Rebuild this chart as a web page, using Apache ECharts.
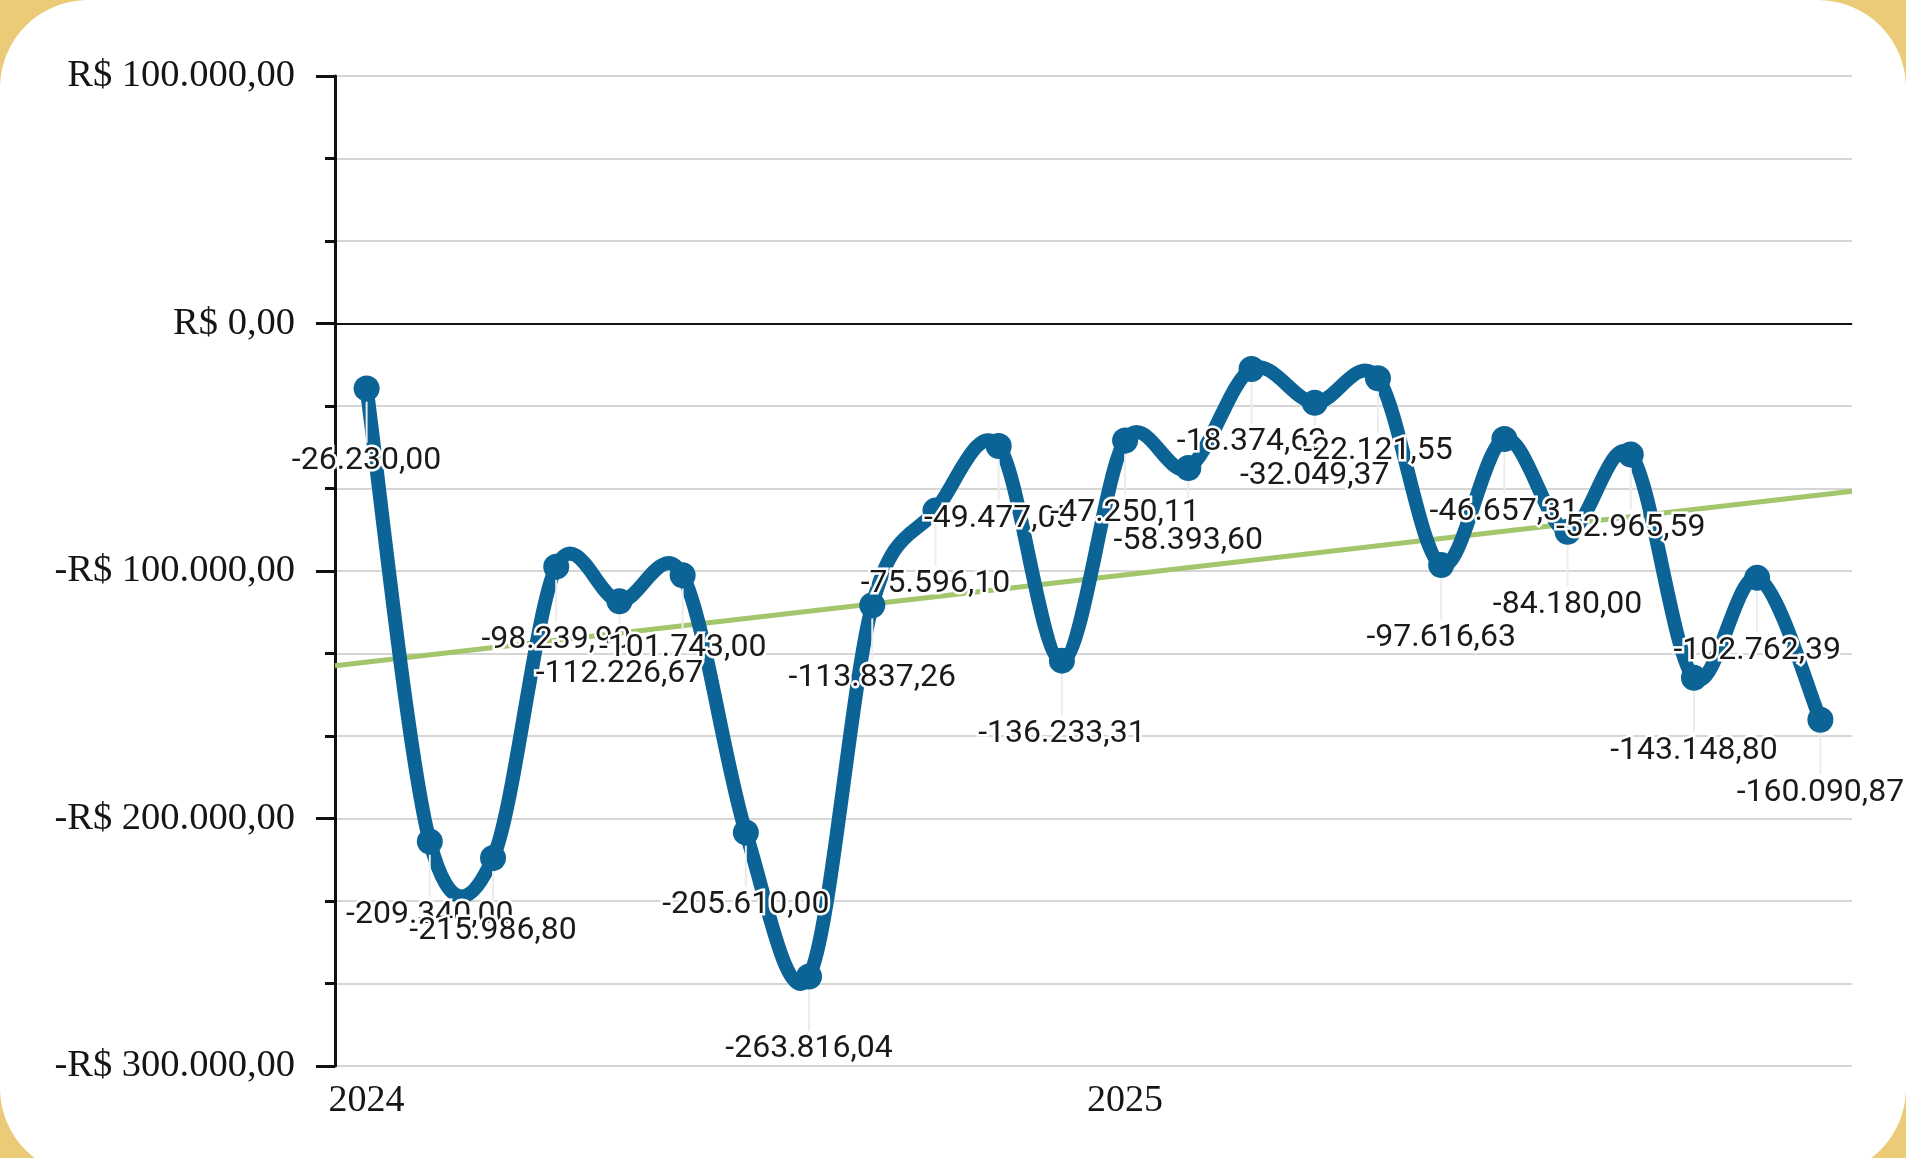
<!DOCTYPE html>
<html>
<head>
<meta charset="utf-8">
<script src="https://cdn.jsdelivr.net/npm/echarts@6/dist/echarts.min.js"></script>
<style>
  html, body { margin: 0; padding: 0; background: #ebca78; overflow: hidden; }
  #card { position: absolute; left: 0; top: 0; width: 1906px; height: 1176px; background: #fff; border-radius: 88px; }
  #chart { position: absolute; left: 0; top: 0; width: 1906px; height: 1158px; }
</style>
</head>
<body>
<div id="card"></div>
<div id="chart"></div>
<script>
// meses 2024-01 .. 2025-12
var months = [
  "2024-01", "2024-02", "2024-03", "2024-04", "2024-05", "2024-06",
  "2024-07", "2024-08", "2024-09", "2024-10", "2024-11", "2024-12",
  "2025-01", "2025-02", "2025-03", "2025-04", "2025-05", "2025-06",
  "2025-07", "2025-08", "2025-09", "2025-10", "2025-11", "2025-12"
];
var balance = [
  -26230.00, -209340.00, -215986.80, -98239.90, -112226.67, -101743.00,
  -205610.00, -263816.04, -113837.26, -75596.10, -49477.05, -136233.31,
  -47250.11, -58393.60, -18374.62, -32049.37, -22121.55, -97616.63,
  -46657.31, -84180.00, -52965.59, -143148.80, -102762.39, -160090.87
];
var trendEnds = [-138300, -67800];
var yMin = -300000;
var yMax = 100000;
var yStep = 100000;

function brNumber(v) {
  var s = Math.abs(v).toFixed(2).split(".");
  var int = s[0].replace(/\B(?=(\d{3})+(?!\d))/g, ".");
  return int + "," + s[1];
}

var chart = echarts.init(document.getElementById("chart"));

var gridLine = "#d6d6d6";
var blue = "#0b6396";

// curva tipo catmull-rom entre os pontos (segmento i -> i+1)
function renderCurve(params, api) {
  var i = params.dataIndex;
  var n = balance.length;
  if (i >= n - 1) return null;
  function pt(k) {
    k = Math.max(0, Math.min(n - 1, k));
    return api.coord([k, balance[k]]);
  }
  var p0 = pt(i - 1), p1 = pt(i), p2 = pt(i + 1), p3 = pt(i + 2);
  return {
    type: "bezierCurve",
    shape: {
      x1: p1[0], y1: p1[1],
      x2: p2[0], y2: p2[1],
      cpx1: p1[0] + (p2[0] - p0[0]) / 6,
      cpy1: p1[1] + (p2[1] - p0[1]) / 6,
      cpx2: p2[0] - (p3[0] - p1[0]) / 6,
      cpy2: p2[1] - (p3[1] - p1[1]) / 6
    },
    style: { stroke: blue, lineWidth: 14, fill: null, lineCap: "round" }
  };
}

chart.setOption({
  animation: false,
  grid: {
    left: 335,
    right: 54,
    top: 76,
    bottom: 92,
    outerBoundsMode: "none"
  },
  xAxis: [
    {
      type: "category",
      data: months,
      boundaryGap: true,
      axisLine: { show: true, lineStyle: { color: "#c4c4c4", width: 2 } },
      axisTick: { show: false },
      axisLabel: {
        interval: 11,
        margin: 16,
        fontFamily: "Liberation Serif",
        fontSize: 38,
        color: "#151515",
        formatter: function(value) {
          return value.slice(0, 4);
        }
      },
      splitLine: { show: false }
    },
    {
      type: "value",
      min: 0,
      max: 1,
      show: false
    }
  ],
  yAxis: [
    {
      type: "value",
      min: yMin,
      max: yMax,
      interval: yStep,
      axisLine: { show: true, onZero: false, lineStyle: { color: "#111", width: 3 } },
      axisTick: { show: true, inside: false, length: 19, lineStyle: { color: "#111", width: 3 } },
      minorTick: { show: true, splitNumber: 3, length: 10, lineStyle: { color: "#111", width: 3 } },
      axisLabel: {
        margin: 40,
        fontFamily: "Liberation Serif",
        fontSize: 38.5,
        color: "#151515",
        formatter: function(value) {
          return (value < 0 ? "-" : "") + "R$ " + brNumber(value);
        }
      },
      splitLine: { show: true, lineStyle: { color: gridLine, width: 2 } },
      minorSplitLine: { show: true, lineStyle: { color: gridLine, width: 2 } }
    },
    {
      type: "value",
      min: yMin,
      max: yMax,
      interval: yStep,
      axisLine: { show: false },
      axisTick: { show: true, inside: true, length: 19, lineStyle: { color: "#111", width: 3 } },
      minorTick: { show: true, splitNumber: 3, length: 10, lineStyle: { color: "#111", width: 3 } },
      axisLabel: { show: false },
      splitLine: { show: false }
    }
  ],
  series: [
    {
      name: "Tendência",
      type: "line",
      xAxisIndex: 1,
      yAxisIndex: 0,
      data: [[0, trendEnds[0]], [1, trendEnds[1]]],
      symbol: "none",
      silent: true,
      z: 1,
      lineStyle: { color: "#a3c56b", width: 5 },
      markLine: {
        silent: true,
        symbol: "none",
        label: { show: false },
        lineStyle: { color: "#111", width: 2, type: "solid" },
        data: [{ yAxis: 0 }]
      }
    },
    {
      name: "Curva",
      type: "custom",
      xAxisIndex: 0,
      yAxisIndex: 0,
      silent: true,
      z: 2,
      data: balance.map(function(v, i) { return [i, v]; }),
      encode: { x: 0, y: 1 },
      renderItem: renderCurve
    },
    {
      name: "Saldo",
      type: "line",
      xAxisIndex: 0,
      yAxisIndex: 0,
      data: balance,
      symbol: "circle",
      symbolSize: 26,
      z: 3,
      lineStyle: { width: 0, opacity: 0 },
      itemStyle: { color: blue },
      label: {
        show: true,
        position: "inside",
        fontFamily: "Roboto",
        fontSize: 32,
        color: "#1a1a1a",
        textBorderColor: "#fff",
        textBorderWidth: 5,
        formatter: function(p) {
          return (p.value < 0 ? "-" : "") + brNumber(p.value);
        }
      },
      labelLayout: { dy: 73 },
      labelLine: { show: true, lineStyle: { color: "#ececec", width: 2 } }
    }
  ]
});
</script>
</body>
</html>
